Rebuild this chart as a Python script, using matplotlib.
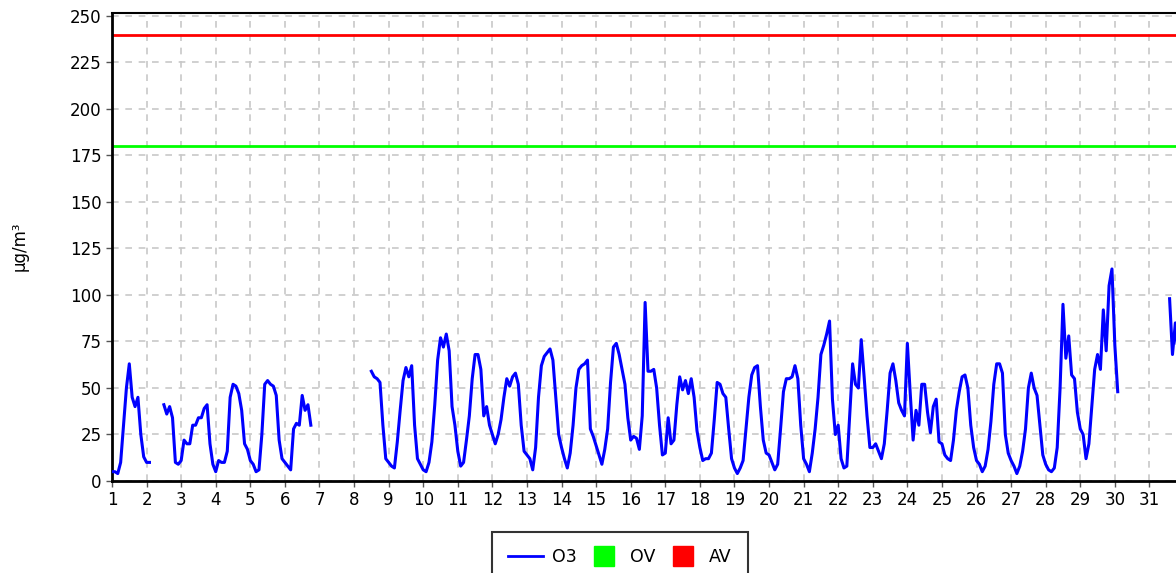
import numpy as np
import matplotlib
matplotlib.use("Agg")
import matplotlib.pyplot as plt
from matplotlib.lines import Line2D

nan = np.nan

# O3 readings in µg/m³, one row per day of the month, every 2 hours (0h, 2h, ... 22h)
o3_by_day = [
    [5, 5, 4, 10, 30, 50, 63, 45, 40, 45, 25, 13],          # 1
    [10, 10, nan, nan, nan, nan, 41, 36, 40, 34, 10, 9],    # 2
    [11, 22, 20, 20, 30, 30, 34, 34, 39, 41, 20, 9],        # 3
    [5, 11, 10, 10, 16, 45, 52, 51, 47, 38, 20, 17],        # 4
    [11, 9, 5, 6, 25, 52, 54, 52, 51, 46, 22, 12],          # 5
    [10, 8, 6, 28, 31, 30, 46, 38, 41, 30, nan, nan],       # 6
    [nan] * 12,                                             # 7
    [nan] * 6 + [59, 56, 55, 53, 30, 12],                   # 8
    [10, 8, 7, 21, 38, 54, 61, 56, 62, 30, 12, 9],          # 9
    [6, 5, 10, 21, 41, 65, 77, 72, 79, 70, 40, 30],         # 10
    [16, 8, 10, 22, 35, 55, 68, 68, 60, 35, 40, 30],        # 11
    [25, 20, 25, 33, 45, 55, 51, 56, 58, 52, 30, 16],       # 12
    [14, 12, 6, 18, 45, 62, 67, 69, 71, 65, 45, 25],        # 13
    [18, 12, 7, 15, 30, 50, 60, 62, 63, 65, 28, 24],        # 14
    [19, 14, 9, 17, 28, 53, 72, 74, 68, 60, 52, 34],        # 15
    [22, 24, 23, 17, 35, 96, 59, 59, 60, 50, 30, 14],       # 16
    [15, 34, 20, 22, 41, 56, 49, 54, 47, 55, 45, 27],       # 17
    [18, 11, 12, 12, 15, 33, 53, 52, 47, 45, 28, 12],       # 18
    [7, 4, 7, 11, 28, 45, 57, 61, 62, 40, 22, 15],          # 19
    [14, 10, 6, 9, 28, 48, 55, 55, 56, 62, 55, 30],         # 20
    [12, 9, 5, 15, 28, 45, 68, 73, 79, 86, 44, 25],         # 21
    [30, 12, 7, 8, 35, 63, 52, 50, 76, 56, 35, 18],         # 22
    [18, 20, 16, 12, 20, 38, 58, 63, 54, 42, 38, 35],       # 23
    [74, 47, 22, 38, 30, 52, 52, 37, 26, 40, 44, 21],       # 24
    [20, 14, 12, 11, 22, 38, 48, 56, 57, 50, 30, 18],       # 25
    [11, 9, 5, 8, 17, 32, 52, 63, 63, 58, 25, 15],          # 26
    [11, 8, 4, 8, 16, 28, 50, 58, 50, 46, 30, 14],          # 27
    [9, 6, 5, 7, 18, 50, 95, 66, 78, 57, 55, 37],           # 28
    [28, 25, 12, 20, 40, 60, 68, 60, 92, 70, 105, 114],     # 29
    [73, 48] + [nan] * 10,                                  # 30
    [nan] * 7 + [98, 68, 85, 66, 60],                       # 31
]

ov_limit = 180   # information threshold
av_limit = 240   # alert threshold
y_ticks = list(range(0, 251, 25))
day_ticks = list(range(1, 32))

o3 = np.array(o3_by_day, dtype=float).ravel()
t = 1 + np.arange(len(o3)) / 12.0

fig = plt.figure(figsize=(11.76, 5.73), dpi=100)
ax = fig.add_axes([112 / 1176, 92 / 573, 1072 / 1176, 468 / 573])

ax.plot(t, o3, color="#0000ff", lw=2.2, zorder=3)
ax.axhline(ov_limit, color="#00ff00", lw=2, zorder=2)
ax.axhline(av_limit, color="#ff0000", lw=2, zorder=2)

ax.set_xlim(1, 32)
ax.set_ylim(0, 251.6)
ax.set_xticks(day_ticks)
ax.set_yticks(y_ticks)
ax.tick_params(labelsize=12, direction="out", length=4, width=1, color="#555555")
ax.grid(True, color="#c8c8c8", linestyle=(0, (4, 4)), lw=1.2)
ax.set_axisbelow(True)

for side in ["left", "bottom"]:
    ax.spines[side].set_linewidth(2)
ax.spines["top"].set_linewidth(1.5)
ax.spines["right"].set_visible(False)

fig.text(20 / 1176, 1 - 246 / 573, "µg/m³", rotation=90, fontsize=12,
         ha="center", va="center")

handles = [
    Line2D([], [], color="#0000ff", lw=2),
    Line2D([], [], marker="s", ls="", color="#00ff00", markersize=14),
    Line2D([], [], marker="s", ls="", color="#ff0000", markersize=14),
]
leg = fig.legend(handles, ["O3", "OV", "AV"], loc="upper center",
                 bbox_to_anchor=(620 / 1176, 1 - 532 / 573), ncol=3,
                 fontsize=12.5, frameon=True, fancybox=False, handlelength=2.0,
                 columnspacing=0.6, handletextpad=0.5, borderpad=0.95,
                 borderaxespad=0)
leg.get_frame().set_edgecolor("black")
leg.get_frame().set_linewidth(1.5)

fig.savefig("out.png", dpi=100)
